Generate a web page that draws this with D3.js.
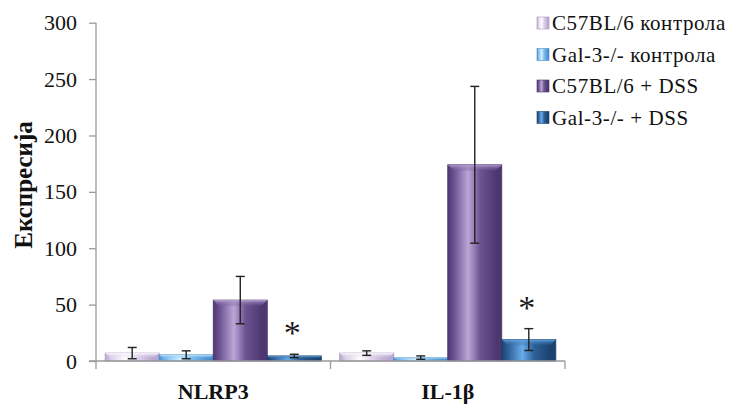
<!DOCTYPE html>
<html><head><meta charset="utf-8">
<script src="https://cdn.jsdelivr.net/npm/d3@7"></script>
<style>body{margin:0;background:#fff}svg{display:block}</style>
</head><body><svg id="c" width="738" height="408"></svg>
<script>
const categories = ["NLRP3", "IL-1β"];
const series = ["C57BL/6 контрола", "Gal-3-/- контрола", "C57BL/6 + DSS", "Gal-3-/- + DSS"];
const means = [[7, 5.5, 54, 4.5], [7, 3, 174, 19]];
const errors = [[5, 3.5, 21, 1.5], [2, 1.5, 69.5, 9.7]];
const significant = [[false, false, false, true], [false, false, false, true]];
const yTicks = [0, 50, 100, 150, 200, 250, 300];
const yTitle = "Експресија";

const palette = [
  {dark:"#b9a9cf", mid:"#ddd2ea", light:"#ffffff", edge:"#a895c2"},
  {dark:"#4d90cf", mid:"#7dbcec", light:"#d3efff", edge:"#4a8ccb"},
  {dark:"#4d3771", mid:"#6c5392", light:"#bba7d6", edge:"#4a356d"},
  {dark:"#1c426e", mid:"#2e6097", light:"#67acea", edge:"#1b3f69"}
];
const FONT = "'Liberation Serif', 'Times New Roman', serif";

const svg = d3.select("#c");
const L = 96, R = 565, T = 22.7, B = 361;
const x0 = d3.scaleBand().domain(categories).range([L, R]).paddingInner(0).paddingOuter(0);
const x1 = d3.scaleBand().domain(series).range([0, x0.bandwidth()]).paddingInner(0).paddingOuter(0.17);
const y = d3.scaleLinear().domain([0, 300]).range([B, T]);

const defs = svg.append("defs");
palette.forEach((p, i) => {
  const g = defs.append("linearGradient").attr("id", "g" + i).attr("x1", "0").attr("x2", "1").attr("y1", "0").attr("y2", "0");
  [[0, p.dark], [0.12, p.mid], [0.38, p.light], [0.6, p.mid], [0.9, p.dark], [1, p.dark]].forEach(s =>
    g.append("stop").attr("offset", s[0]).attr("stop-color", s[1]));
  const t = defs.append("linearGradient").attr("id", "t" + i).attr("x1", "0").attr("x2", "0").attr("y1", "0").attr("y2", "1");
  t.append("stop").attr("offset", 0).attr("stop-color", p.light).attr("stop-opacity", 0.9);
  t.append("stop").attr("offset", 1).attr("stop-color", p.mid).attr("stop-opacity", 0.2);
});

// axes
const yAxis = d3.axisLeft(y).tickValues(yTicks).tickSize(7).tickPadding(12).tickFormat(d3.format("d"));
const gy = svg.append("g").attr("transform", `translate(${L},0)`).call(yAxis);
gy.select(".domain").remove();
gy.selectAll("line").attr("stroke", "#9a9a9a").attr("stroke-width", 1.3);
gy.selectAll("text").attr("font-family", FONT).attr("font-size", 22).attr("fill", "#111");
svg.append("line").attr("x1", L).attr("x2", L).attr("y1", T).attr("y2", B + 8).attr("stroke", "#9a9a9a").attr("stroke-width", 1.3);

// bars
const groups = svg.append("g").selectAll("g").data(categories).join("g")
  .attr("transform", d => `translate(${x0(d)},0)`);
groups.each(function(cat, ci) {
  const g = d3.select(this);
  series.forEach((s, si) => {
    const v = means[ci][si], e = errors[ci][si];
    const bx = x1(s), bw = x1.bandwidth(), top = y(v), h = B - top;
    g.append("rect").attr("x", bx).attr("y", top).attr("width", bw).attr("height", h)
      .attr("fill", `url(#g${si})`).attr("stroke", palette[si].edge).attr("stroke-width", 0.8);
    const bev = Math.min(6, h / 2);
    g.append("path")
      .attr("d", `M${bx},${top}L${bx + bw},${top}L${bx + bw - bev},${top + bev}L${bx + bev},${top + bev}Z`)
      .attr("fill", `url(#t${si})`);
    const cx = bx + bw / 2;
    const eg = g.append("g").attr("stroke", "#222").attr("stroke-width", 1.4);
    eg.append("line").attr("x1", cx).attr("x2", cx).attr("y1", y(v + e)).attr("y2", y(Math.max(0, v - e)));
    eg.append("line").attr("x1", cx - 4.5).attr("x2", cx + 4.5).attr("y1", y(v + e)).attr("y2", y(v + e));
    eg.append("line").attr("x1", cx - 4.5).attr("x2", cx + 4.5).attr("y1", y(Math.max(0, v - e))).attr("y2", y(Math.max(0, v - e)));
    if (significant[ci][si]) {
      g.append("text").attr("x", cx - 2).attr("y", y(v + e) - 10).attr("text-anchor", "middle")
        .attr("font-family", FONT).attr("font-size", 34).attr("fill", "#1a1a1a").text("*");
    }
  });
});

// x axis
const xAxis = d3.axisBottom(x0).tickSize(0).tickPadding(22);
const gx = svg.append("g").attr("transform", `translate(0,${B})`).call(xAxis);
gx.select(".domain").remove();
gx.selectAll("text").attr("font-family", FONT).attr("font-size", 22)
  .attr("font-weight", "bold").attr("fill", "#111");
svg.append("line").attr("x1", L - 7).attr("x2", R).attr("y1", B).attr("y2", B).attr("stroke", "#9a9a9a").attr("stroke-width", 1.3);
svg.append("g").selectAll("line").data(categories).join("line")
  .attr("x1", d => x0(d) + x0.bandwidth()).attr("x2", d => x0(d) + x0.bandwidth())
  .attr("y1", B).attr("y2", B + 8).attr("stroke", "#9a9a9a").attr("stroke-width", 1.3);

// y title
svg.append("text").attr("transform", "translate(32,185) rotate(-90)").attr("text-anchor", "middle")
  .attr("font-family", FONT).attr("font-size", 25).attr("font-weight", "bold")
  .attr("fill", "#111").text(yTitle);

// legend
const lg = svg.append("g").selectAll("g").data(series).join("g")
  .attr("transform", (d, i) => `translate(537,${23 + i * 31.5})`);
lg.append("rect").attr("x", 0).attr("y", -6).attr("width", 12).attr("height", 12)
  .attr("fill", (d, i) => `url(#g${i})`).attr("stroke", (d, i) => palette[i].edge).attr("stroke-width", 0.6);
lg.append("text").attr("x", 15).attr("y", 0).attr("dy", "0.35em")
  .attr("font-family", FONT).attr("font-size", 21).attr("letter-spacing", 0.6).attr("fill", "#111")
  .text(d => d);
</script></body></html>
